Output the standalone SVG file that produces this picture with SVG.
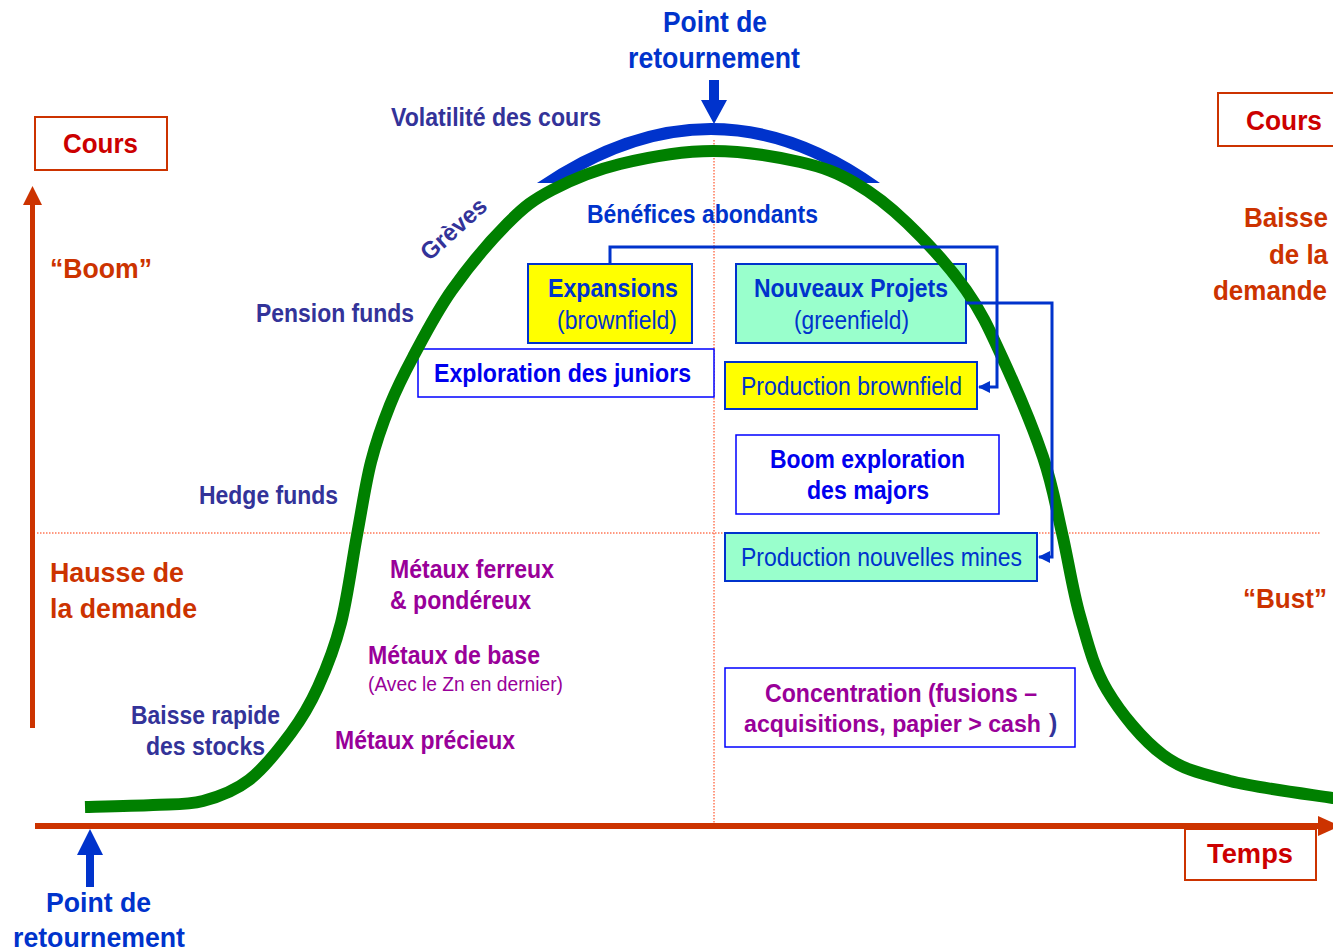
<svg xmlns="http://www.w3.org/2000/svg" width="1333" height="952" viewBox="0 0 1333 952">
<defs>
<style>
.b{font-family:"Liberation Sans",Arial,sans-serif;font-weight:bold}
.r{font-family:"Liberation Sans",Arial,sans-serif;font-weight:normal}
.blue{fill:#0033CC}
.navy{fill:#333399}
.bright{fill:#0000EE}
.purp{fill:#990099}
.org{fill:#CC3300}
.red{fill:#CC0000}
.dot{stroke:#FF3300;stroke-width:1;stroke-dasharray:1.5 1.5;fill:none}
.axisbox{fill:#fff;stroke:#CC3300;stroke-width:2}
.nb{stroke:#0033CC;stroke-width:2}
.tb{fill:#fff;stroke:#0000FF;stroke-width:1.5}
.conn{fill:none;stroke:#0033CC;stroke-width:3}
</style>
<marker id="ah" viewBox="0 0 12 12" refX="11" refY="6" markerWidth="12" markerHeight="12" markerUnits="userSpaceOnUse" orient="auto">
<path d="M0,0 L12,6 L0,12 z" fill="#0033CC"/>
</marker>
</defs>
<rect width="1333" height="952" fill="#fff"/>

<!-- guide lines -->
<g id="guides">
<line class="dot" x1="37" y1="533" x2="1320" y2="533"/>
<line class="dot" x1="714" y1="140" x2="714" y2="823"/>
</g>

<!-- axes -->
<g id="axes">
<line x1="32.5" y1="728" x2="32.5" y2="203" stroke="#CC3300" stroke-width="5"/>
<polygon points="23,205 32.5,186 42,205" fill="#CC3300"/>
<line x1="35" y1="826" x2="1320" y2="826" stroke="#CC3300" stroke-width="6"/>
<polygon points="1318,816 1340,826 1318,836" fill="#CC3300"/>
</g>

<g id="cours-left">
<rect class="axisbox" x="35" y="117" width="132" height="53"/>
<text class="b red" x="63" y="153" font-size="28" textLength="75" lengthAdjust="spacingAndGlyphs">Cours</text>
</g>
<g id="cours-right">
<rect class="axisbox" x="1218" y="93" width="130" height="53"/>
<text class="b red" x="1246" y="130" font-size="28" textLength="76" lengthAdjust="spacingAndGlyphs">Cours</text>
</g>
<g id="temps">
<rect class="axisbox" x="1185" y="829" width="131" height="51"/>
<text class="b red" x="1207" y="863" font-size="28" textLength="86" lengthAdjust="spacingAndGlyphs">Temps</text>
</g>

<!-- labels -->
<g id="label-point-top">
<text class="b blue" x="663" y="32" font-size="29" textLength="104" lengthAdjust="spacingAndGlyphs">Point de</text>
<text class="b blue" x="628" y="68" font-size="29" textLength="172" lengthAdjust="spacingAndGlyphs">retournement</text>
<path d="M709,80 H719 V100 H727 L714,124 L701,100 H709 Z" fill="#0033CC"/>
</g>
<g id="label-point-bottom">
<path d="M86,887 V855 H77 L90,829 L103,855 H94 V887 Z" fill="#0033CC"/>
<text class="b blue" x="46" y="912" font-size="28" textLength="105" lengthAdjust="spacingAndGlyphs">Point de</text>
<text class="b blue" x="13" y="947" font-size="28" textLength="172" lengthAdjust="spacingAndGlyphs">retournement</text>
</g>
<g id="volatilite">
<path d="M537,183 Q713,63 880,183 L858,183 Q713,87 560,183 Z" fill="#0033CC"/>
<text class="b navy" x="391" y="126" font-size="25" textLength="210" lengthAdjust="spacingAndGlyphs">Volatilité des cours</text>
</g>
<g id="benefices">
<text class="b blue" x="587" y="223" font-size="25" textLength="231" lengthAdjust="spacingAndGlyphs">Bénéfices abondants</text>
</g>
<g id="greves">
<text class="b navy" transform="translate(459,235) rotate(-42)" text-anchor="middle" font-size="24" textLength="80" lengthAdjust="spacingAndGlyphs">Grèves</text>
</g>
<g id="boom">
<text class="b org" x="50" y="278" font-size="28" textLength="102" lengthAdjust="spacingAndGlyphs">“Boom”</text>
</g>
<g id="pension">
<text class="b navy" x="256" y="322" font-size="25" textLength="158" lengthAdjust="spacingAndGlyphs">Pension funds</text>
</g>
<g id="hedge">
<text class="b navy" x="199" y="504" font-size="25" textLength="139" lengthAdjust="spacingAndGlyphs">Hedge funds</text>
</g>
<g id="hausse">
<text class="b org" x="50" y="582" font-size="28" textLength="134" lengthAdjust="spacingAndGlyphs">Hausse de</text>
<text class="b org" x="50" y="618" font-size="28" textLength="147" lengthAdjust="spacingAndGlyphs">la demande</text>
</g>
<g id="baisse">
<text class="b org" x="1244" y="227" font-size="27" textLength="84" lengthAdjust="spacingAndGlyphs">Baisse</text>
<text class="b org" x="1269" y="264" font-size="27" textLength="59" lengthAdjust="spacingAndGlyphs">de la</text>
<text class="b org" x="1213" y="300" font-size="27" textLength="114" lengthAdjust="spacingAndGlyphs">demande</text>
</g>
<g id="bust">
<text class="b org" x="1243" y="608" font-size="28" textLength="84" lengthAdjust="spacingAndGlyphs">“Bust”</text>
</g>
<g id="metaux">
<text class="b purp" x="390" y="578" font-size="25" textLength="164" lengthAdjust="spacingAndGlyphs">Métaux ferreux</text>
<text class="b purp" x="390" y="609" font-size="25" textLength="141" lengthAdjust="spacingAndGlyphs">&amp; pondéreux</text>
<text class="b purp" x="368" y="664" font-size="25" textLength="172" lengthAdjust="spacingAndGlyphs">Métaux de base</text>
<text class="r purp" x="368" y="691" font-size="19.5" textLength="195" lengthAdjust="spacingAndGlyphs">(Avec le Zn en dernier)</text>
<text class="b purp" x="335" y="749" font-size="25" textLength="180" lengthAdjust="spacingAndGlyphs">Métaux précieux</text>
</g>
<g id="stocks">
<text class="b navy" x="131" y="724" font-size="25" textLength="149" lengthAdjust="spacingAndGlyphs">Baisse rapide</text>
<text class="b navy" x="146" y="755" font-size="25" textLength="119" lengthAdjust="spacingAndGlyphs">des stocks</text>
</g>

<!-- boxes -->
<g id="expansions">
<rect class="nb" x="528" y="264" width="164" height="79" fill="#FFFF00"/>
<text class="b blue" x="548" y="297" font-size="25" textLength="130" lengthAdjust="spacingAndGlyphs">Expansions</text>
<text class="r blue" x="557" y="329" font-size="25" textLength="120" lengthAdjust="spacingAndGlyphs">(brownfield)</text>
</g>
<g id="nouveaux">
<rect class="nb" x="736" y="264" width="230" height="79" fill="#99FFCC"/>
<text class="b blue" x="754" y="297" font-size="25" textLength="194" lengthAdjust="spacingAndGlyphs">Nouveaux Projets</text>
<text class="r blue" x="794" y="329" font-size="25" textLength="115" lengthAdjust="spacingAndGlyphs">(greenfield)</text>
</g>
<g id="juniors">
<rect class="tb" x="418" y="349" width="296" height="48"/>
<text class="b bright" x="434" y="382" font-size="25" textLength="257" lengthAdjust="spacingAndGlyphs">Exploration des juniors</text>
</g>
<g id="prod-brownfield">
<rect class="nb" x="725" y="362" width="252" height="47" fill="#FFFF00"/>
<text class="r blue" x="741" y="395" font-size="25" textLength="221" lengthAdjust="spacingAndGlyphs">Production brownfield</text>
</g>
<g id="majors">
<rect class="tb" x="736" y="435" width="263" height="79"/>
<text class="b bright" x="770" y="468" font-size="25" textLength="195" lengthAdjust="spacingAndGlyphs">Boom exploration</text>
<text class="b bright" x="807" y="499" font-size="25" textLength="122" lengthAdjust="spacingAndGlyphs">des majors</text>
</g>
<g id="prod-nouvelles">
<rect class="nb" x="725" y="533" width="312" height="48" fill="#99FFCC"/>
<text class="r blue" x="741" y="566" font-size="25" textLength="281" lengthAdjust="spacingAndGlyphs">Production nouvelles mines</text>
</g>
<g id="concentration">
<rect class="tb" x="725" y="668" width="350" height="79" stroke-width="2"/>
<text class="b purp" x="765" y="702" font-size="25" textLength="272" lengthAdjust="spacingAndGlyphs">Concentration (fusions –</text>
<text class="b purp" x="744" y="732" font-size="23" textLength="297" lengthAdjust="spacingAndGlyphs">acquisitions, papier &gt; cash</text>
<text class="b navy" x="1049" y="732" font-size="25">)</text>
</g>

<!-- price curve -->
<g id="curve">
<path fill="none" stroke="#008000" stroke-width="12" d="M85,807 C96.3,806.7 133.3,806 153,805 C172.7,804 187,805.2 203,801 C219,796.8 234.3,791.3 249,780 C263.7,768.7 279.5,748.5 291,733 C302.5,717.5 309.7,705.3 318,687 C326.3,668.7 334.5,648.3 341,623 C347.5,597.7 352,561.8 357,535 C362,508.2 365.5,483.7 371,462 C376.5,440.3 383,422.5 390,405 C397,387.5 402.7,376.2 413,357 C423.3,337.8 436.2,312.3 452,290 C467.8,267.7 491.3,239.7 508,223 C524.7,206.3 533.3,199.8 552,190 C570.7,180.2 593.2,170.5 620,164 C646.8,157.5 683,151 713,151 C743,151 776.3,156.7 800,162 C823.7,167.3 837.2,172.8 855,183 C872.8,193.2 888.5,205.2 907,223 C925.5,240.8 950.2,267.7 966,290 C981.8,312.3 989.2,329.2 1002,357 C1014.8,384.8 1033,427.7 1043,457 C1053,486.3 1055.8,506.5 1062,533 C1068.2,559.5 1072.5,589.8 1080,616 C1087.5,642.2 1093.2,666.8 1107,690 C1120.8,713.2 1142.5,739.8 1163,755 C1183.5,770.2 1201.7,773.8 1230,781 C1258.3,788.2 1315.8,795.2 1333,798 L1345,800"/>
</g>

<!-- connectors -->
<g id="connectors">
<path class="conn" d="M610,264 V247 H997 V387 H979" marker-end="url(#ah)"/>
<path class="conn" d="M966,303 H1052 V557 H1039" marker-end="url(#ah)"/>
</g>
</svg>
